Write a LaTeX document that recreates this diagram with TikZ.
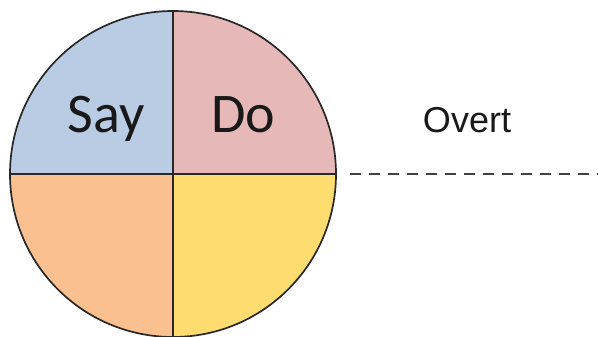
\documentclass[tikz,border=0pt]{standalone}
\usepackage{fontspec}
\setmainfont{Carlito}
\newfontfamily\overtfont{Liberation Sans}
\definecolor{qblue}{RGB}{185,204,228}
\definecolor{qpink}{RGB}{230,185,184}
\definecolor{qorange}{RGB}{250,192,144}
\definecolor{qyellow}{RGB}{255,220,112}
\definecolor{edge}{RGB}{40,40,40}
\tikzset{
  bigword/.style={font=\fontsize{56}{60}\selectfont, text=black!90, anchor=base, inner sep=0pt},
  sideword/.style={font=\overtfont\fontsize{36}{40}\selectfont, text=black!90, anchor=base, inner sep=0pt},
  divider/.style={draw=edge, line width=2pt},
  dashline/.style={draw=black!75, line width=1.8pt, dash pattern=on 11pt off 8pt}
}
\begin{document}
\begin{tikzpicture}[x=1pt,y=-1pt]
\useasboundingbox (0,0) rectangle (598,337);
\coordinate (c) at (173,174);
\fill[qblue]   (c) -- ++(-163,0) arc[start angle=180,end angle=270,radius=163] -- cycle;
\fill[qpink]   (c) -- ++(0,-163) arc[start angle=270,end angle=360,radius=163] -- cycle;
\fill[qorange] (c) -- ++(-163,0) arc[start angle=180,end angle=90,radius=163] -- cycle;
\fill[qyellow] (c) -- ++(163,0) arc[start angle=0,end angle=90,radius=163] -- cycle;
\draw[edge, line width=1.7pt] (c) circle[radius=163];
\draw[divider] (10,174) -- (336,174);
\draw[divider] (173,11) -- (173,337);
\node[bigword] (say) at (106,133) {Say};
\node[bigword] (do) at (243,133) {Do};
\node[sideword] (overt) at (467,133) {Overt};
\coordinate (dstart) at (350,174);
\coordinate (dend) at (598,174);
\draw[dashline] (dstart) -- (dend);
\end{tikzpicture}
\end{document}
